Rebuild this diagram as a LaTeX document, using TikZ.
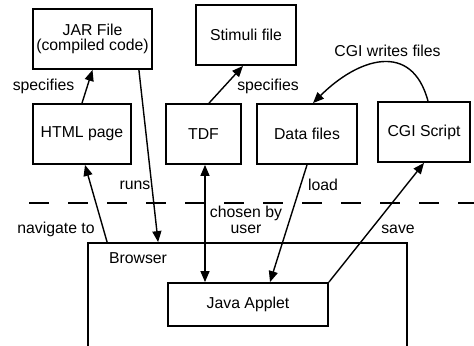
\documentclass[tikz,border=0pt]{standalone}
\usepackage{fontspec}
\setmainfont{Liberation Sans}
\usepackage{tikz}
\usetikzlibrary{arrows.meta,calc}
\newcommand{\dfont}{\fontsize{7.9}{7.8}\selectfont}
\tikzset{
  box/.style={draw,line width=0.9pt,minimum height=30pt,inner sep=0pt,align=center,font=\dfont},
  lbl/.style={inner sep=0pt,align=center,font=\dfont},
  ar/.style={-{Triangle[length=5.5pt,width=4.5pt]},line width=0.7pt},
  dar/.style={{Triangle[length=5.5pt,width=4.5pt]}-{Triangle[length=5.5pt,width=4.5pt]},line width=0.7pt},
  sep/.style={line width=1pt,dash pattern=on 9.75pt off 9.75pt}
}
\begin{document}
\begin{tikzpicture}[x=0.5pt,y=0.5pt]
\path[use as bounding box] (0,0) rectangle (474,345);
\clip (0,0) rectangle (474,345);
% upper row: files and pages
\node[box,minimum width=59.5pt] (jar) at (92.5,306) {JAR File\\(compiled code)};
\node[box,minimum width=50pt] (stim) at (246,310) {Stimuli file};
\node[box,minimum width=49pt] (html) at (82,211) {HTML page};
\node[box,minimum width=37.5pt] (tdf) at (203.5,211) {TDF};
\node[box,minimum width=50pt] (data) at (307,211) {Data files};
\node[box,minimum width=46pt] (cgi) at (424,213) {CGI Script};
% client side
\draw[sep] (29,142) -- (474,142);
\node[box,minimum width=159.5pt,minimum height=61pt] (brw) at (247.5,41) {};
\node[lbl] (brwtxt) at (138,87) {Browser};
\node[box,minimum width=80pt,minimum height=21.5pt] (app) at (248,40.5) {Java Applet};
% connectors
\draw[ar] (html.north) -- (jar.south);
\draw[ar] ([xshift=-7pt]jar.south east) -- ([xshift=35.5pt]brw.north west);
\draw[ar] ([xshift=10pt]brw.north west) -- ([xshift=1.5pt]html.south);
\draw[dar] ([xshift=0.75pt]tdf.south) -- ([xshift=0.75pt]tdf.south |- app.north);
\draw[ar] ([xshift=2.75pt]tdf.north) -- ([xshift=-1.5pt]stim.south);
\draw[ar] (data.south) -- ([xshift=11pt]app.north);
\draw[ar] (app.north east) -- (cgi.south);
\draw[ar] ([xshift=2pt]cgi.north) to[out=105,in=45,looseness=1.4] ([xshift=3pt]data.north);
% labels
\node[lbl] (spec1) at (43.5,259) {specifies};
\node[lbl] (spec2) at (268,259) {specifies};
\node[lbl] (cgiw) at (387.5,294) {CGI writes files};
\node[lbl] (runs) at (135,160) {runs};
\node[lbl] (load) at (323,160) {load};
\node[lbl] (nav) at (56,116) {navigate to};
\node[lbl] (chosen) at (246,125) {chosen by\\user};
\node[lbl] (save) at (398,116) {save};
\end{tikzpicture}
\end{document}
